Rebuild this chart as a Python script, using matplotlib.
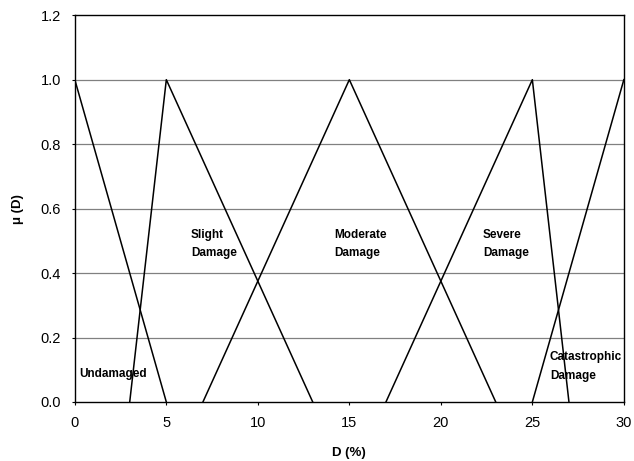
import matplotlib
matplotlib.use('Agg')
import matplotlib.pyplot as plt

plt.rcParams['font.family'] = ['Liberation Sans', 'DejaVu Sans']

# membership functions (D %, mu)
undamaged_x = [0, 5]
undamaged_y = [1, 0]
slight_x = [3, 5, 13]
slight_y = [0, 1, 0]
moderate_x = [7, 15, 23]
moderate_y = [0, 1, 0]
severe_x = [17, 25, 27]
severe_y = [0, 1, 0]
catastrophic_x = [25, 30]
catastrophic_y = [0, 1]

labels = ['Undamaged', 'Slight\nDamage', 'Moderate\nDamage', 'Severe\nDamage', 'Catastrophic\nDamage']
label_x = [0.22, 6.34, 14.15, 22.3, 25.96]
label_y = [0.087, 0.491, 0.491, 0.491, 0.110]

fig = plt.figure(figsize=(6.34, 4.61), dpi=100)
ax = fig.add_axes([0.118, 0.128, 0.866, 0.839])

for y in [0.2, 0.4, 0.6, 0.8, 1.0]:
    ax.axhline(y, color='#808080', lw=0.9, zorder=1)

for xs, ys in [(undamaged_x, undamaged_y), (slight_x, slight_y), (moderate_x, moderate_y),
               (severe_x, severe_y), (catastrophic_x, catastrophic_y)]:
    ax.plot(xs, ys, color='black', lw=1.1, zorder=2)

for t, x, y in zip(labels, label_x, label_y):
    ax.text(x, y, t, fontsize=8.5, fontweight='bold', ha='left', va='center', linespacing=1.7)

ax.set_xlim(0, 30)
ax.set_ylim(0, 1.2)
ax.set_xticks([0, 5, 10, 15, 20, 25, 30])
ax.set_yticks([0.0, 0.2, 0.4, 0.6, 0.8, 1.0, 1.2])
ax.set_yticklabels(['0.0', '0.2', '0.4', '0.6', '0.8', '1.0', '1.2'])
ax.tick_params(labelsize=10.5, length=2, width=0.8)
ax.tick_params(axis='x', pad=8)
ax.tick_params(axis='y', pad=8)
for s in ax.spines.values():
    s.set_linewidth(1.0)

ax.set_xlabel('D (%)', fontsize=9.5, fontweight='bold', labelpad=12)
ax.set_ylabel('μ (D)', fontsize=9.5, fontweight='bold', labelpad=12)

fig.savefig('out.png', dpi=100)
